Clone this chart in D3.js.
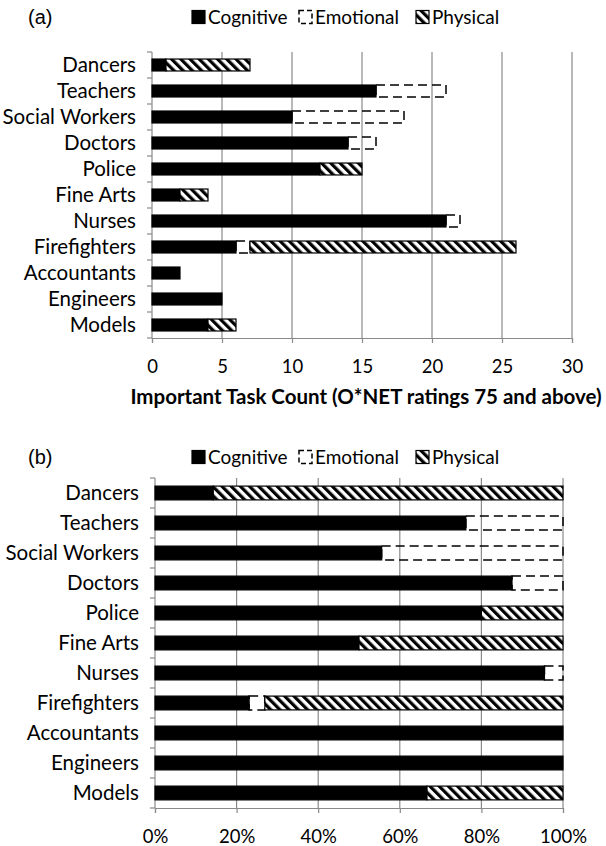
<!DOCTYPE html>
<html>
<head>
<meta charset="utf-8">
<script src="https://cdn.jsdelivr.net/npm/d3@7"></script>
<style>
  body { margin: 0; background: #fff; }
  text { font-family: Lato, "Open Sans", sans-serif; fill: #000; }
</style>
</head>
<body>
<div id="chart"></div>
<script>
// data (important task counts)
var categories = ["Dancers", "Teachers", "Social Workers", "Doctors", "Police", "Fine Arts",
                  "Nurses", "Firefighters", "Accountants", "Engineers", "Models"];
var cognitive = [1, 16, 10, 14, 12, 2, 21, 6, 2, 5, 4];
var emotional = [0, 5, 8, 2, 0, 0, 1, 1, 0, 0, 0];
var physical  = [6, 0, 0, 0, 3, 2, 0, 19, 0, 0, 2];
var seriesKeys = ["Cognitive", "Emotional", "Physical"];
var countTicks = [0, 5, 10, 15, 20, 25, 30];
var pctTicks = [0, 0.2, 0.4, 0.6, 0.8, 1];

var rows = categories.map(function(c, i) {
  return {cat: c, Cognitive: cognitive[i], Emotional: emotional[i], Physical: physical[i]};
});

var W = 606, H = 846;
var svg = d3.select("#chart").append("svg")
    .attr("width", W)
    .attr("height", H);

// stripe pattern for the physical series
var defs = svg.append("defs");
var pat = defs.append("pattern")
    .attr("id", "hatch")
    .attr("patternUnits", "userSpaceOnUse")
    .attr("width", 6.5).attr("height", 6.5)
    .attr("patternTransform", "rotate(-45)");
pat.append("rect").attr("width", 6.5).attr("height", 6.5).attr("fill", "#fff");
pat.append("rect").attr("width", 3.2).attr("height", 6.5).attr("fill", "#000");

var grey = "#8a8a8a";

function drawPanel(o) {
  var g = svg.append("g");

  var x = d3.scaleLinear().domain(o.domain).range([o.left, o.right]);
  var y = d3.scaleBand().domain(categories).range([o.top, o.bottom])
      .paddingInner(0.54).paddingOuter(0.27);

  var stack = d3.stack().keys(seriesKeys).offset(o.offset);
  var layers = stack(rows);

  // vertical grid lines
  g.append("g").selectAll("line")
    .data(o.ticks.slice(1))
    .enter().append("line")
      .attr("x1", function(d) { return x(d); })
      .attr("x2", function(d) { return x(d); })
      .attr("y1", o.top).attr("y2", o.bottom)
      .attr("stroke", grey).attr("stroke-width", 1.2);

  // bottom axis
  var xAxis = d3.axisBottom(x).tickValues(o.ticks).tickSize(5).tickPadding(14)
      .tickFormat(o.fmt);
  var ax = g.append("g").attr("transform", "translate(0," + o.bottom + ")").call(xAxis);
  ax.select(".domain").attr("stroke", grey).attr("stroke-width", 1.2);
  ax.selectAll(".tick line").attr("stroke", grey).attr("stroke-width", 1.2);
  ax.selectAll(".tick text")
      .attr("font-family", "Lato, sans-serif")
      .attr("font-size", o.tickSize).attr("fill", "#000")
      .attr("dy", "0.85em");

  // left axis line + ticks at band boundaries
  g.append("line")
      .attr("x1", o.left).attr("x2", o.left)
      .attr("y1", o.top).attr("y2", o.bottom)
      .attr("stroke", grey).attr("stroke-width", 1.2);
  g.append("g").selectAll("line")
    .data(d3.range(categories.length + 1))
    .enter().append("line")
      .attr("x1", o.left - 5).attr("x2", o.left)
      .attr("y1", function(i) { return o.top + i * y.step(); })
      .attr("y2", function(i) { return o.top + i * y.step(); })
      .attr("stroke", grey).attr("stroke-width", 1.2);

  // category labels
  g.append("g").selectAll("text")
    .data(categories)
    .enter().append("text")
      .attr("x", o.left - 16)
      .attr("y", function(d) { return y(d) + y.bandwidth() / 2; })
      .attr("dy", "0.35em")
      .attr("text-anchor", "end")
      .attr("font-size", 20.5)
      .text(function(d) { return d; });

  // bars
  layers.forEach(function(layer) {
    var k = layer.key;
    g.append("g").selectAll("rect")
      .data(layer.filter(function(d) { return d[1] - d[0] > 0; }))
      .enter().append("rect")
        .attr("x", function(d) { return x(d[0]); })
        .attr("y", function(d) { return y(d.data.cat); })
        .attr("width", function(d) { return x(d[1]) - x(d[0]); })
        .attr("height", y.bandwidth())
        .attr("fill", k == "Cognitive" ? "#000" : (k == "Physical" ? "url(#hatch)" : "none"))
        .attr("stroke", "#000")
        .attr("stroke-width", k == "Emotional" ? 1.5 : 1.2)
        .attr("stroke-dasharray", k == "Emotional" ? "9,5" : null);
  });

  // panel letter
  svg.append("text")
      .attr("x", 28).attr("y", o.legendY + 7)
      .style("font-family", "'Liberation Sans', Arial, sans-serif")
      .attr("font-size", 20)
      .text(o.letter);

  // legend
  var legX = [192, 299, 416];
  var leg = svg.append("g").selectAll("g")
    .data(seriesKeys)
    .enter().append("g")
      .attr("transform", function(d, i) { return "translate(" + legX[i] + "," + o.legendY + ")"; });
  leg.append("rect")
      .attr("x", 0).attr("y", -6.5).attr("width", 13).attr("height", 13)
      .attr("fill", function(d) { return d == "Cognitive" ? "#000" : (d == "Physical" ? "url(#hatch)" : "none"); })
      .attr("stroke", "#000")
      .attr("stroke-width", function(d) { return d == "Emotional" ? 1.5 : 1.2; })
      .attr("stroke-dasharray", function(d) { return d == "Emotional" ? "5,3" : null; });
  leg.append("text")
      .attr("x", 16).attr("y", 0).attr("dy", "0.36em")
      .attr("font-size", 19)
      .text(function(d) { return d; });

  if (o.title) {
    svg.append("text")
        .attr("x", o.titleX).attr("y", o.titleY)
        .attr("text-anchor", "middle")
        .attr("font-size", 20.5)
        .attr("font-weight", "bold")
        .text(o.title);
  }
}

drawPanel({
  letter: "(a)", legendY: 17,
  left: 152, right: 572, top: 52, bottom: 338,
  domain: [0, 30], ticks: countTicks, offset: d3.stackOffsetNone,
  fmt: d3.format("d"), tickSize: 18.5,
  title: "Important Task Count (O*NET ratings 75 and above)", titleX: 366, titleY: 404
});

drawPanel({
  letter: "(b)", legendY: 457,
  left: 155, right: 563, top: 478, bottom: 808,
  domain: [0, 1], ticks: pctTicks, offset: d3.stackOffsetExpand,
  fmt: d3.format(".0%"), tickSize: 18.5
});
</script>
</body>
</html>
